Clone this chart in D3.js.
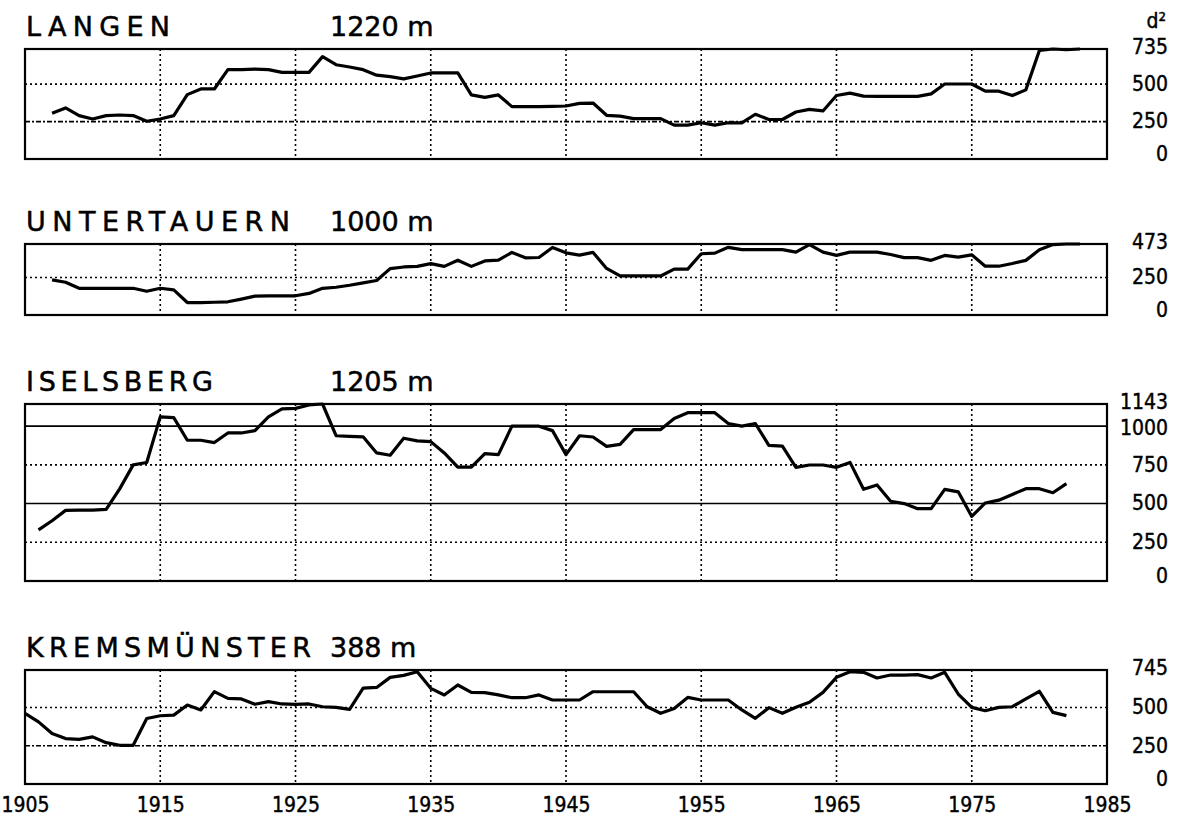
<!DOCTYPE html>
<html lang="de">
<head>
<meta charset="utf-8">
<script src="https://d3js.org/d3.v7.min.js"></script>
<style>
body { margin: 0; background: #fff; }
.title { font-family: "DejaVu Sans", sans-serif; font-size: 27px; fill: #000; stroke: #000; stroke-width: 0.5px; }
.tick text, .unit { font-family: "DejaVu Sans Condensed", "DejaVu Sans", sans-serif; font-size: 21px; fill: #000; stroke: #000; stroke-width: 0.4px; }
</style>
</head>
<body>
<script>

// Jahreswerte in d² (Tagesgradsummen), je Station ab dem Startjahr
var decades = [1905, 1915, 1925, 1935, 1945, 1955, 1965, 1975, 1985];

var langenStart = 1907;
var langenValues = [305, 341, 290, 267, 290, 294, 290, 252, 267, 290,
	430, 468, 468, 597, 597, 600, 597, 579, 579, 579,
	684, 630, 615, 597, 560, 550, 535, 555, 575, 575,
	575, 428, 412, 428, 350, 350, 350, 352, 354, 372,
	374, 292, 286, 270, 270, 270, 226, 226, 242, 226,
	242, 242, 299, 264, 264, 314, 332, 321, 424, 440,
	420, 418, 418, 418, 418, 435, 501, 501, 501, 453,
	453, 424, 462, 725, 735, 730, 735];
var langenTicks = [0, 250, 500, 735];

var untertauernStart = 1907;
var untertauernValues = [234, 218, 178, 178, 178, 178, 178, 158, 178, 167,
	83, 83, 85, 88, 106, 126, 127, 127, 128, 144,
	178, 185, 198, 214, 230, 309, 320, 324, 342, 324,
	365, 324, 360, 365, 417, 381, 383, 450, 414, 399,
	417, 310, 260, 260, 260, 260, 306, 306, 408, 412,
	451, 436, 436, 436, 436, 419, 469, 419, 397, 419,
	419, 419, 403, 382, 382, 364, 397, 386, 401, 325,
	325, 343, 364, 434, 469, 473, 473];
var untertauernTicks = [0, 250, 473];

var iselsbergStart = 1906;
var iselsbergValues = [330, 389, 456, 458, 458, 462, 595, 750, 765, 1060,
	1055, 909, 909, 894, 956, 956, 971, 1060, 1111, 1115,
	1137, 1143, 938, 934, 931, 827, 812, 922, 905, 900,
	827, 735, 735, 823, 816, 1000, 1000, 1000, 971, 816,
	938, 930, 869, 882, 978, 978, 978, 1050, 1087, 1087,
	1087, 1017, 1000, 1017, 876, 871, 734, 749, 749, 734,
	766, 592, 620, 515, 500, 467, 467, 592, 576, 417,
	504, 522, 559, 596, 596, 570, 629];
var iselsbergTicks = [0, 250, 500, 750, 1000, 1143];

var kremsStart = 1905;
var kremsValues = [461, 406, 330, 297, 292, 308, 270, 253, 253, 428,
	446, 450, 516, 484, 604, 560, 556, 521, 538, 523,
	521, 523, 505, 501, 488, 626, 631, 697, 710, 734,
	625, 582, 647, 599, 597, 582, 564, 564, 582, 549,
	549, 549, 603, 603, 603, 603, 505, 462, 494, 566,
	549, 549, 549, 484, 429, 499, 462, 501, 534, 599,
	697, 734, 730, 693, 712, 712, 715, 693, 730, 588,
	501, 479, 501, 505, 556, 606, 468, 447];
var kremsTicks = [0, 250, 500, 745];

var stations = [
	{ name: "LANGEN", elev: "1220 m", start: langenStart, values: langenValues, ticks: langenTicks },
	{ name: "UNTERTAUERN", elev: "1000 m", start: untertauernStart, values: untertauernValues, ticks: untertauernTicks },
	{ name: "ISELSBERG", elev: "1205 m", start: iselsbergStart, values: iselsbergValues, ticks: iselsbergTicks },
	{ name: "KREMSMÜNSTER", elev: "388 m", start: kremsStart, values: kremsValues, ticks: kremsTicks }
];

// Layout: Rahmen oben/unten je Feld, Titelbreite, Stil der inneren Gitterlinien
var panelBox = [[49, 159], [244, 315], [404, 581], [670, 784]];
var titleWidth = [144, 264, 187, 285];
var gridStyle = [["dashdot", "dot"], ["dot"], ["dot", "solid", "dot", "solid"], ["dashdot", "dot"]];
var dash = { dot: "2,3", dashdot: "5,2,2,2", solid: null };

var width = 1182, height = 817;
var left = 25, right = 1107, labelRight = 1168;

var x = d3.scaleLinear().domain([1905, 1985]).range([left, right]);

var svg = d3.select("body").append("svg")
	.attr("width", width)
	.attr("height", height);

stations.forEach(function(s, i) {
	var top = panelBox[i][0], bottom = panelBox[i][1];
	var ymax = d3.max(s.ticks);
	var y = d3.scaleLinear().domain([0, ymax]).range([bottom, top]);
	var g = svg.append("g");

	// senkrechte Gitterlinien (punktiert)
	g.selectAll(".vgrid")
		.data(decades.slice(1, -1))
		.enter().append("line")
		.attr("x1", x).attr("x2", x)
		.attr("y1", top).attr("y2", bottom)
		.attr("stroke", "#000")
		.attr("stroke-width", 1.6)
		.attr("stroke-dasharray", "2,3");

	// waagrechte Gitterlinien
	g.selectAll(".hgrid")
		.data(s.ticks.slice(1, -1))
		.enter().append("line")
		.attr("x1", left).attr("x2", right)
		.attr("y1", y).attr("y2", y)
		.attr("stroke", "#000")
		.attr("stroke-width", 1.6)
		.attr("stroke-dasharray", function(d, j) { return dash[gridStyle[i][j]]; });

	// Rahmen
	g.append("rect")
		.attr("x", left).attr("y", top)
		.attr("width", right - left).attr("height", bottom - top)
		.attr("fill", "none")
		.attr("stroke", "#000")
		.attr("stroke-width", 2.2);

	// Kurve
	var line = d3.line()
		.x(function(d, j) { return x(s.start + j); })
		.y(function(d) { return y(d); });

	g.append("path")
		.datum(s.values)
		.attr("d", line)
		.attr("fill", "none")
		.attr("stroke", "#000")
		.attr("stroke-width", 3.2)
		.attr("stroke-linejoin", "round");

	// Titel
	g.append("text")
		.attr("class", "title")
		.attr("x", left + 1)
		.attr("y", top - 13)
		.attr("textLength", titleWidth[i])
		.attr("lengthAdjust", "spacing")
		.text(s.name);

	g.append("text")
		.attr("class", "title")
		.attr("x", 330)
		.attr("y", top - 13)
		.text(s.elev);

	// rechte Achse
	var ax = g.append("g")
		.attr("transform", "translate(" + labelRight + ",0)")
		.call(d3.axisRight(y).tickValues(s.ticks).tickFormat(d3.format("d")).tickSize(0).tickPadding(0));
	ax.select(".domain").remove();
	ax.selectAll("text")
		.attr("x", 0)
		.attr("text-anchor", "end")
		.attr("dy", function(d) {
			if (d === 0) return "0.05em";
			if (d === ymax) return "0.2em";
			if (d === 1000) return "0.42em";
			return "0.3em";
		});
});

svg.append("text")
	.attr("class", "unit")
	.attr("x", labelRight - 2)
	.attr("y", 28)
	.attr("text-anchor", "end")
	.text("d²");

// Jahresachse
var xa = svg.append("g")
	.attr("transform", "translate(0," + panelBox[3][1] + ")")
	.call(d3.axisBottom(x).tickValues(decades).tickFormat(d3.format("d")).tickSize(0));
xa.select(".domain").remove();
xa.selectAll("text").attr("y", 28).attr("dy", 0);

</script>
</body>
</html>
